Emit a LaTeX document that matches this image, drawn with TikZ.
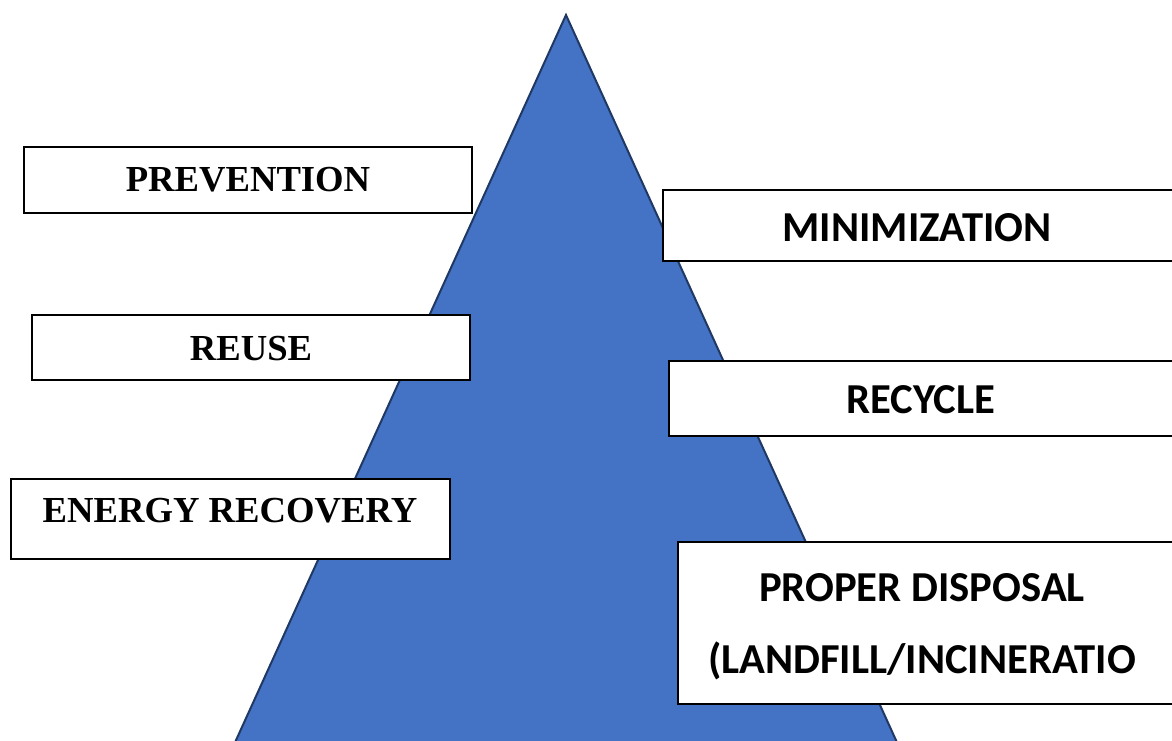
\documentclass[tikz,border=0pt]{standalone}
\usepackage{fontspec}
\setmainfont{Liberation Serif}
\newfontfamily\calibri{Carlito}
\usetikzlibrary{fit}
\definecolor{pyramidblue}{HTML}{4472C4}
\definecolor{pyramidedge}{HTML}{203864}

\begin{document}
\begin{tikzpicture}[x=0.75pt,y=-0.75pt]
        \tikzstyle{every node} = [inner sep=0pt]
        \tikzstyle{levelbox} = [rectangle, draw=black, line width=1.5pt, fill=white]
        \tikzstyle{seriflabel} = [font=\fontsize{27.5}{33}\selectfont\bfseries]
        \tikzstyle{sanslabel} = [font=\calibri\fontsize{32}{54}\selectfont\bfseries, align=center]
        \useasboundingbox (0,0) rectangle (1172,740);
        \clip (0,0) rectangle (1172,740);

        % the pyramid
        \coordinate (apex) at (566,15);
        \coordinate (baseleft) at (227,760);
        \coordinate (baseright) at (905,760);
        \filldraw[fill=pyramidblue, draw=pyramidedge, line width=1.5pt, line join=miter]
            (apex) -- (baseleft) -- (baseright) -- cycle;

        % left column
        \node[levelbox, fit={(24,147) (472,213)}] (preventionbox) {};
        \node[levelbox, fit={(32,315) (470,380)}] (reusebox) {};
        \node[levelbox, fit={(11,479) (450,559)}] (energybox) {};
        \node[seriflabel] (prevention) at (248,180) {PREVENTION};
        \node[seriflabel] (reuse) at (251,348.5) {REUSE};
        \node[seriflabel] (energy) at (230,511) {ENERGY RECOVERY};

        % right column
        \node[levelbox, fit={(663,190) (1180,261)}] (minimizationbox) {};
        \node[levelbox, fit={(669,361) (1180,436)}] (recyclebox) {};
        \node[levelbox, fit={(678,542) (1180,704)}] (disposalbox) {};
        \node[sanslabel] (minimization) at (917,228) {MINIMIZATION};
        \node[sanslabel] (recycle) at (921,400) {RECYCLE};
        \node[sanslabel] (disposal) at (922,627) {PROPER DISPOSAL\\(LANDFILL/INCINERATIO};
    \end{tikzpicture}
\end{document}
